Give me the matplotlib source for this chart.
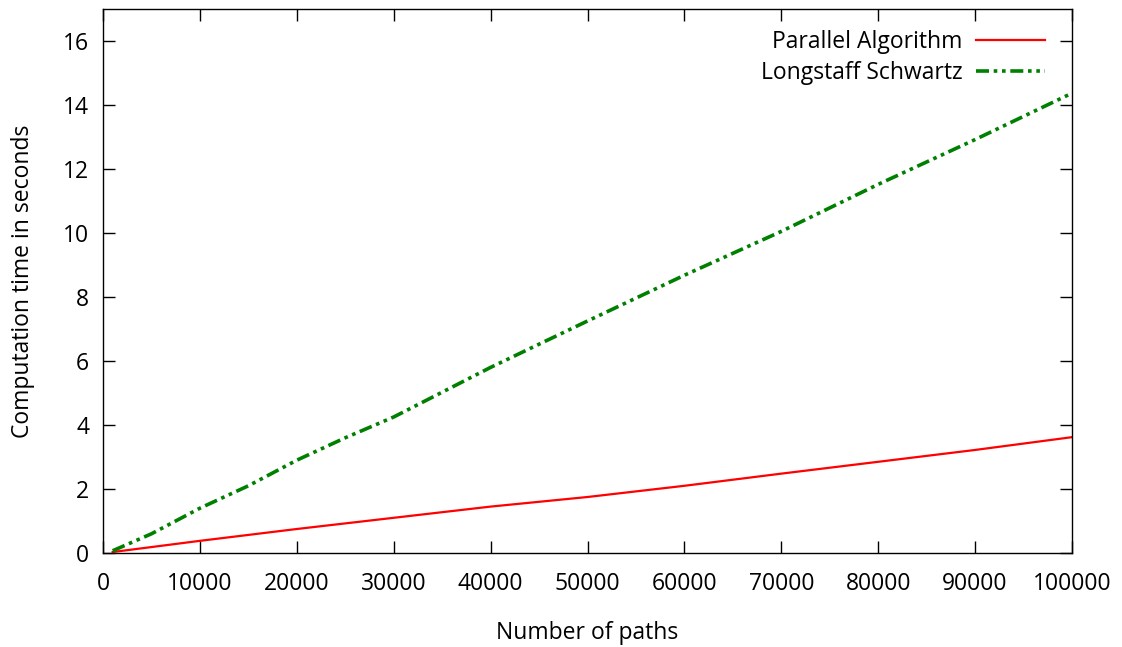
import matplotlib
matplotlib.use('Agg')
import matplotlib.pyplot as plt

# number of paths
paths_parallel = [1000, 10000, 20000, 30000, 40000, 50000, 60000, 70000, 80000, 90000, 100000]
time_parallel = [0.03, 0.38, 0.75, 1.1, 1.45, 1.75, 2.1, 2.48, 2.85, 3.22, 3.62]

paths_ls = [1000, 5000, 10000, 15000, 20000, 25000, 30000, 40000, 50000,
            60000, 70000, 80000, 90000, 100000]
time_ls = [0.07, 0.6, 1.4, 2.1, 2.9, 3.6, 4.25, 5.8, 7.25, 8.68, 10.05, 11.52, 12.92, 14.37]

xticks = list(range(0, 100001, 10000))
yticks = list(range(0, 17, 2))

plt.rcParams['font.family'] = ['Open Sans', 'DejaVu Sans']
plt.rcParams['font.size'] = 16.5

fig = plt.figure(figsize=(11.22, 6.47), dpi=100)
ax = fig.add_axes([103 / 1122, 1 - 553 / 647, 969 / 1122, 544 / 647])

ax.plot(paths_parallel, time_parallel, color='#ff0000', lw=1.6, label='Parallel Algorithm')
ax.plot(paths_ls, time_ls, color='#008000', lw=2.6, dashes=(3.6, 1.3, 1.0, 1.3, 1.0, 1.3),
        dash_capstyle='butt', label='Longstaff Schwartz')

ax.set_xlim(0, 100000)
ax.set_ylim(0, 17)
ax.set_xticks(xticks)
ax.set_xticklabels([str(t) for t in xticks])
ax.set_yticks(yticks)
ax.tick_params(direction='in', length=8.5, width=1, top=True, right=True)
ax.tick_params(axis='x', pad=14)
ax.tick_params(axis='y', pad=10)
for s in ax.spines.values():
    s.set_linewidth(1)

ax.set_xlabel('Number of paths', labelpad=18)
ax.set_ylabel('Computation time in seconds', labelpad=20)

ax.legend(loc='upper right', bbox_to_anchor=(0.972, 0.962), frameon=False, markerfirst=False,
          handlelength=3.0, borderaxespad=0, borderpad=0, labelspacing=0.34, handletextpad=0.6)

fig.savefig('out.png', dpi=100)
